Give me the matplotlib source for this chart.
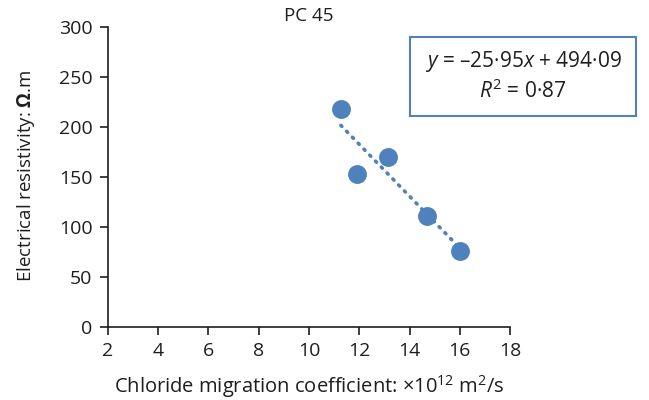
import matplotlib
matplotlib.use("Agg")
import matplotlib.pyplot as plt
from matplotlib.patches import Rectangle

plt.rcParams['font.family'] = ['Open Sans', 'DejaVu Sans']
plt.rcParams['mathtext.fontset'] = 'custom'
plt.rcParams['mathtext.rm'] = 'Open Sans'
plt.rcParams['mathtext.it'] = 'Open Sans:italic'
plt.rcParams['mathtext.bf'] = 'Open Sans:bold'

# data
chloride = [11.27, 11.91, 13.14, 14.70, 16.01]
resistivity = [218, 153, 170, 111, 76]
slope = -25.95
intercept = 494.09
r2 = 0.87

x_ticks = [2, 4, 6, 8, 10, 12, 14, 16, 18]
y_ticks = [0, 50, 100, 150, 200, 250, 300]

blue = '#4f81bd'
ink = '#1e1e1e'

fig = plt.figure(figsize=(6.49, 4.0), dpi=100)
ax = fig.add_axes([0.166, 0.1825, 0.62, 0.75])

ax.scatter(chloride, resistivity, s=185, color=blue, zorder=3, linewidths=0)
xs = [min(chloride), max(chloride)]
ax.plot(xs, [slope * v + intercept for v in xs], color=blue, lw=2.6,
        linestyle=(0, (0.4, 1.9)), dash_capstyle='round', zorder=2)

ax.set_xlim(2, 18)
ax.set_ylim(0, 300)
ax.set_xticks(x_ticks)
ax.set_yticks(y_ticks)
ax.tick_params(labelsize=14, length=6, width=1.2, colors=ink, pad=5)
for s in ['top', 'right']:
    ax.spines[s].set_visible(False)
for s in ['left', 'bottom']:
    ax.spines[s].set_linewidth(1.2)
    ax.spines[s].set_color(ink)

ax.set_title('PC 45', fontsize=13.5, pad=4, color=ink)
ax.set_xlabel(r'Chloride migration coefficient: ×10$^{12}$ m$^{2}$/s',
              fontsize=14.5, color=ink)
ax.set_ylabel(r'Electrical resistivity: $\mathbf{\Omega}$.m',
              fontsize=13.5, color=ink)
ax.xaxis.set_label_coords(0.5, -0.155)
ax.yaxis.set_label_coords(-0.176, 0.505)

# equation box
fig.patches.append(Rectangle((410 / 649, 1 - 116 / 400), 226 / 649, 79 / 400,
                             transform=fig.transFigure, fill=False,
                             edgecolor=blue, lw=1.5))
fig.text(523 / 649, 1 - 62 / 400,
         r'$y$ = –%s$x$ + %s' % (f'{-slope:.2f}'.replace('.', '·'),
                                 f'{intercept:.2f}'.replace('.', '·')),
         ha='center', va='center', fontsize=15, color=ink)
fig.text(523 / 649, 1 - 91 / 400,
         r'$R^{2}$ = %s' % f'{r2:.2f}'.replace('.', '·'),
         ha='center', va='center', fontsize=15, color=ink)

fig.savefig('out.png', dpi=100)
